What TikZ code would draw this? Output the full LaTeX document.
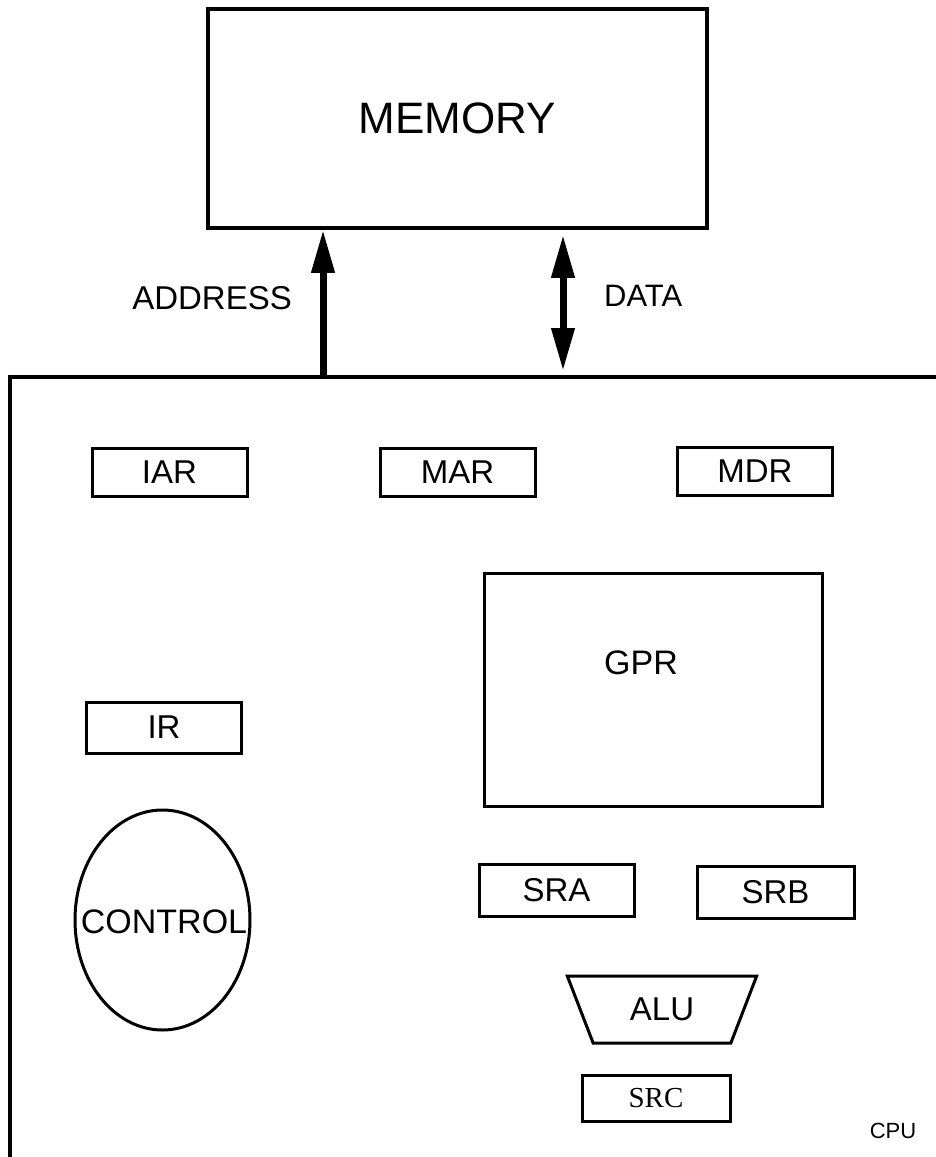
\documentclass[tikz,border=0pt]{standalone}
\usepackage{fontspec}
\setmainfont{Liberation Sans}
\newfontfamily\srcfont{Liberation Serif}
\usetikzlibrary{shapes.geometric,arrows.meta}
\begin{document}
\begin{tikzpicture}[x=1pt,y=-1pt,
  reg/.style={draw, line width=3pt, inner sep=0pt, minimum width=155pt, minimum height=48pt, font=\fontsize{33}{33}\selectfont},
  bigbox/.style={draw, line width=3.5pt, inner sep=0pt},
  lbl/.style={inner sep=0pt, font=\fontsize{33}{33}\selectfont},
  bus/.style={line width=7pt}
]
\useasboundingbox (0,0) rectangle (936,1157);
\clip (0,0) rectangle (936,1157);
% memory and cpu
\node[bigbox, minimum width=499pt, minimum height=219pt, font=\fontsize{44}{44}\selectfont] (mem) at (457.5,118.5) {MEMORY};
\node[bigbox, anchor=north west, minimum width=960pt, minimum height=820pt] (cpu) at (8,375) {};
% buses
\coordinate (abase) at (323,375);
\coordinate (dbase) at (563,375);
\draw[bus, -{Triangle[width=22pt,length=43pt]}] (abase) -- (abase |- mem.south);
\draw[bus, {Triangle[width=22pt,length=43pt]}-{Triangle[width=22pt,length=43pt]}, shorten <=4pt, shorten >=5pt] (dbase) -- (dbase |- mem.south);
\node[lbl, anchor=east] (addr) at (292,298) {ADDRESS};
\node[lbl, font=\fontsize{31}{31}\selectfont, anchor=west] (data) at (604,296) {DATA};
% registers
\node[reg] (iar) at (169.5,472) {IAR};
\node[reg] (mar) at (457.5,472) {MAR};
\node[reg] (mdr) at (755,471) {MDR};
\node[bigbox, line width=3pt, minimum width=338pt, minimum height=233pt] (gpr) at (653,689.5) {};
\node[lbl, font=\fontsize{34}{34}\selectfont] (gprl) at (641,663) {GPR};
\node[reg, minimum height=51pt] (ir) at (164,727.5) {IR};
\node[draw, ellipse, line width=3pt, inner sep=0pt, minimum width=175pt, minimum height=220pt] (ctrl) at (162.5,920) {};
\node[lbl, font=\fontsize{34}{34}\selectfont] (ctrll) at (164,922) {CONTROL};
\node[reg, minimum height=52pt] (sra) at (556.5,890) {SRA};
\node[reg, minimum width=157pt, minimum height=52pt] (srb) at (775.5,892) {SRB};
\node[draw, trapezium, trapezium stretches=true, shape border rotate=180, trapezium angle=62.4, line width=3pt, inner sep=0pt, minimum width=190pt, minimum height=67pt, font=\fontsize{33}{33}\selectfont] (alu) at (662,1009.5) {ALU};
\node[reg, minimum width=148pt, minimum height=46pt, font=\srcfont\fontsize{29}{29}\selectfont] (src) at (656,1098) {SRC};
\node[inner sep=0pt, font=\fontsize{22}{22}\selectfont] (cpul) at (893,1131) {CPU};
\end{tikzpicture}
\end{document}
